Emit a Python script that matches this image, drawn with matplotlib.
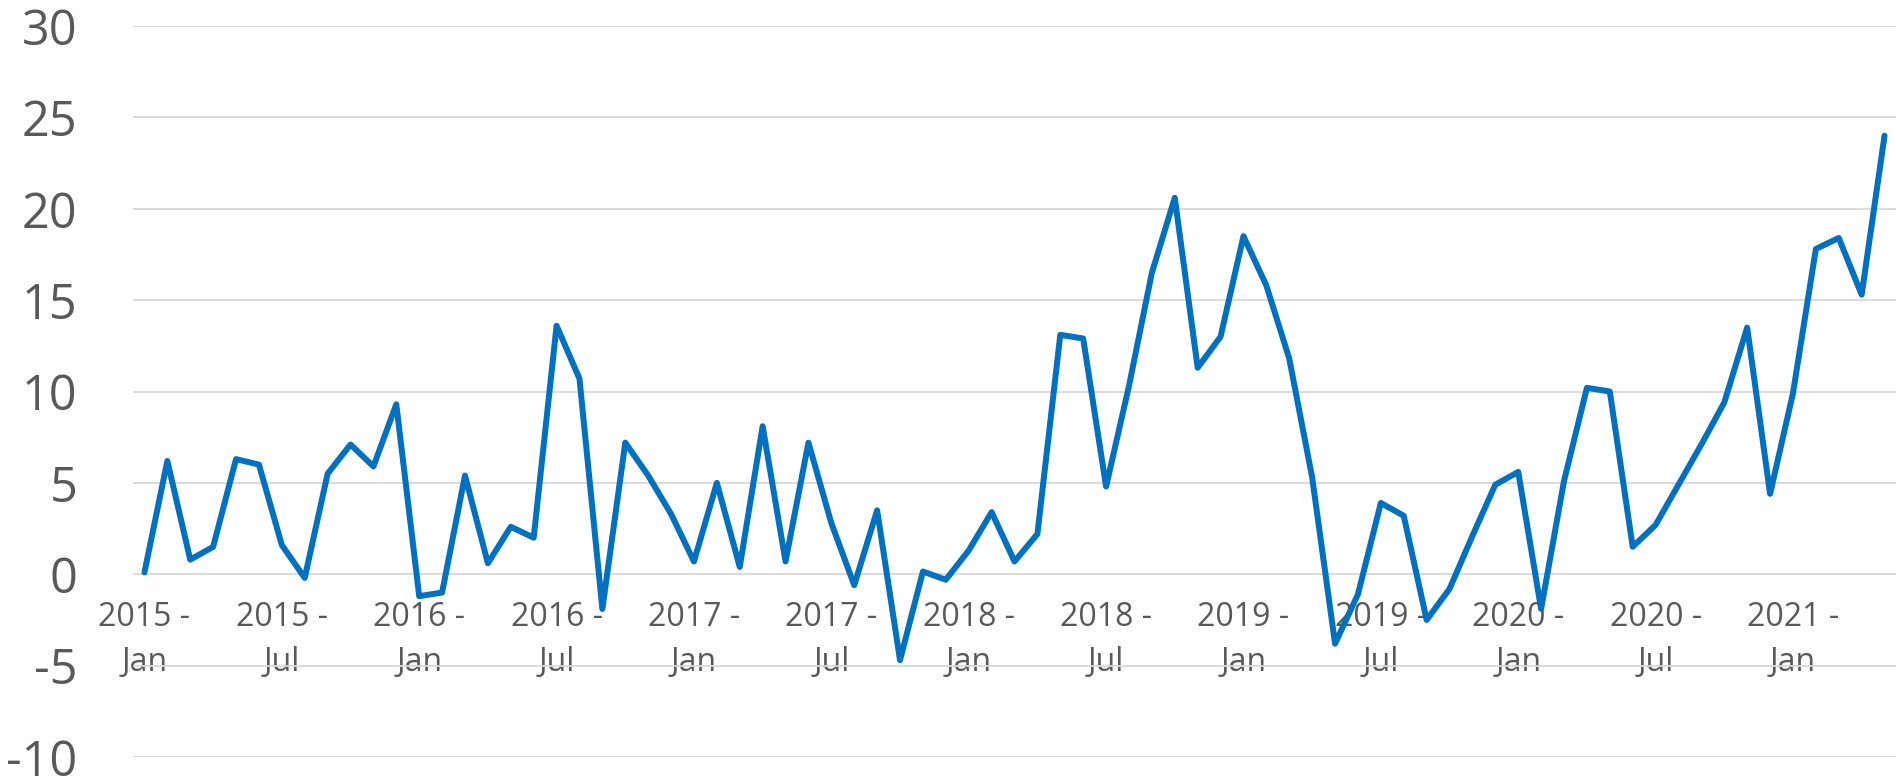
import numpy as np
import matplotlib
matplotlib.use("Agg")
import matplotlib.pyplot as plt
from matplotlib.ticker import FixedLocator, FixedFormatter

plt.rcParams['font.family'] = ['Open Sans', 'DejaVu Sans']
plt.rcParams['axes.unicode_minus'] = False

# monthly values, Jan 2015 .. May 2021
values_2015 = [0.1, 6.2, 0.8, 1.5, 6.3, 6.0, 1.6, -0.2, 5.5, 7.1, 5.9, 9.3]
values_2016 = [-1.2, -1.0, 5.4, 0.6, 2.6, 2.0, 13.6, 10.7, -1.9, 7.2, 5.4, 3.3]
values_2017 = [0.7, 5.0, 0.4, 8.1, 0.7, 7.2, 2.8, -0.6, 3.5, -4.7, 0.15, -0.3]
values_2018 = [1.3, 3.4, 0.7, 2.2, 13.1, 12.9, 4.8, 10.3, 16.5, 20.6, 11.3, 13.0]
values_2019 = [18.5, 15.8, 11.8, 5.3, -3.8, -1.1, 3.9, 3.2, -2.5, -0.8, 2.1, 4.9]
values_2020 = [5.6, -1.9, 5.1, 10.2, 10.0, 1.5, 2.7, 4.9, 7.1, 9.4, 13.5, 4.4]
values_2021 = [9.9, 17.8, 18.4, 15.3, 24.0]

years = [2015, 2016, 2017, 2018, 2019, 2020, 2021]
months = ["Jan", "Feb", "Mar", "Apr", "May", "Jun",
          "Jul", "Aug", "Sep", "Oct", "Nov", "Dec"]
y_ticks = [-10, -5, 0, 5, 10, 15, 20, 25, 30]

values = (values_2015 + values_2016 + values_2017 + values_2018
          + values_2019 + values_2020 + values_2021)
n = len(values)
x = np.arange(n)

# category labels "YYYY -\nMon", shown every 6 months
labels = [f"{years[i // 12]} -\n{months[i % 12]}" for i in range(n)]
tick_pos = [i for i in range(n) if i % 6 == 0]
tick_lab = [labels[i] for i in tick_pos]

fig = plt.figure(figsize=(18.96, 7.79), dpi=100)
ax = fig.add_axes([133 / 1896, 22 / 779, 1763 / 1896, 731 / 779])

ax.plot(x, values, color="#0070C0", linewidth=4.3, solid_joinstyle="round",
        solid_capstyle="round", zorder=3)

ax.set_xlim(-0.5, n - 0.5)
ax.set_ylim(-10, 30)
ax.set_yticks(y_ticks)
ax.yaxis.grid(True, color="#D9D9D9", linewidth=1.3)
ax.set_axisbelow(True)

for s in ["top", "right", "left"]:
    ax.spines[s].set_visible(False)
ax.spines["bottom"].set_position(("data", 0))
ax.spines["bottom"].set_visible(False)

ax.xaxis.set_major_locator(FixedLocator(tick_pos))
ax.xaxis.set_major_formatter(FixedFormatter(tick_lab))
ax.tick_params(axis="x", length=0, pad=19, labelsize=23, labelcolor="#595959")
ax.tick_params(axis="y", length=0, pad=40, labelsize=35, labelcolor="#595959")
for t in ax.get_xticklabels():
    t.set_linespacing(1.48)

fig.savefig("out.png", dpi=100)
